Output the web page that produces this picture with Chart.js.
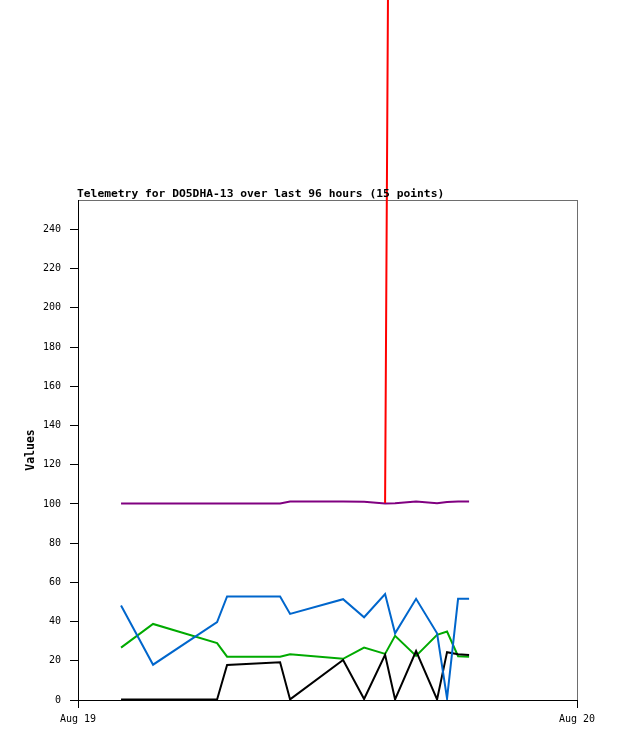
<!doctype html>
<html>
<head>
    <title>Telemetry for DO5DHA-13</title>
    <script src="https://cdn.jsdelivr.net/npm/chart.js"></script>
    <style>
        body { margin: 0; background: #fff; }
    </style>
</head>
<body>
    <canvas id="myChart" width="618" height="741"></canvas>

    <script>
        // time of each sample, hours after Aug 19 00:00
        var hours = [2.07, 3.61, 6.69, 7.17, 9.72, 10.20, 12.75, 13.76, 14.77, 15.25, 16.26, 17.27, 17.75, 18.28, 18.81];

        var redValues    = [null, null, null, null, null, null, null, null, 100.5, 995, 995, 995, 995, 995, 995];
        var blueValues   = [48.2, 18.0, 39.7, 52.8, 52.8, 43.9, 51.4, 42.2, 54.0, 34.0, 51.6, 34.0, 0.8, 51.6, 51.6];
        var blackValues  = [0.3, 0.3, 0.3, 17.9, 19.2, 0.3, 20.4, 0.5, 23.0, 0.3, 25.0, 0.3, 24.4, 23.3, 23.0];
        var greenValues  = [26.7, 38.8, 29.0, 22.1, 22.1, 23.3, 21.0, 26.7, 23.5, 32.7, 22.5, 33.2, 34.9, 22.3, 22.1];
        var purpleValues = [100.2, 100.2, 100.2, 100.2, 100.2, 101.2, 101.2, 101.1, 100.2, 100.4, 101.2, 100.3, 101.0, 101.2, 101.2];

        var xTickLabels = ['Aug 19', 'Aug 20'];
        var yTickStep = 20;

        var titleText = 'Telemetry for DO5DHA-13 over last 96 hours (15 points)';
        var yTitleText = 'Values';

        function points(values) {
            return values.map(function (v, i) { return { x: hours[i], y: v }; });
        }

        function line(values, color, noClip) {
            var ds = {
                data: points(values),
                borderColor: color,
                borderWidth: 2,
                pointRadius: 0,
                tension: 0,
                fill: false,
                spanGaps: false
            };
            if (noClip) ds.clip = false;
            return ds;
        }

        var mono = '"DejaVu Sans Mono", "Liberation Mono", monospace';

        // grey frame behind the axes, plus title and y label in the old gd style
        var framePlugin = {
            id: 'frame',
            beforeDraw: function (chart) {
                var a = chart.chartArea, c = chart.ctx;
                c.save();
                c.fillStyle = '#fff';
                c.fillRect(0, 0, chart.width, chart.height);
                c.strokeStyle = '#6e6e6e';
                c.lineWidth = 1;
                c.strokeRect(a.left + 0.5, a.top + 0.5, a.right - a.left, a.bottom - a.top);
                c.restore();
            },
            afterDraw: function (chart) {
                var a = chart.chartArea, c = chart.ctx;
                c.save();
                c.fillStyle = '#000';
                c.font = 'bold 11.3px ' + mono;
                c.textAlign = 'left';
                c.textBaseline = 'alphabetic';
                c.fillText(titleText, a.left - 1, 197);

                c.translate(31, (a.top + a.bottom) / 2);
                c.rotate(-Math.PI / 2);
                c.textAlign = 'center';
                c.textBaseline = 'middle';
                c.font = 'bold 11.5px ' + mono;
                c.fillText(yTitleText, 0, 0);
                c.restore();
            }
        };

        var ctx = document.getElementById('myChart').getContext('2d');
        var chart = new Chart(ctx, {
            type: 'line',
            data: {
                datasets: [
                    line(redValues, '#ff0000', true),
                    line(blueValues, '#0066cc'),
                    line(blackValues, '#000000'),
                    line(greenValues, '#00aa00'),
                    line(purpleValues, '#800080')
                ]
            },
            options: {
                responsive: false,
                animation: false,
                devicePixelRatio: 1,
                layout: { padding: { top: 200, right: 41, left: 0, bottom: 0 } },
                plugins: {
                    legend: { display: false },
                    title: { display: false },
                    tooltip: { enabled: false }
                },
                scales: {
                    x: {
                        type: 'linear',
                        min: 0,
                        max: 24,
                        afterFit: function (s) { s.height = 41; },
                        grid: { drawOnChartArea: false, tickLength: 8, tickColor: '#000', lineWidth: 1 },
                        border: { display: true, color: '#000', width: 1 },
                        ticks: {
                            stepSize: 24,
                            autoSkip: false,
                            maxRotation: 0,
                            padding: 5,
                            color: '#000',
                            font: { family: mono, size: 10 },
                            callback: function (v) {
                                if (v === 0) return xTickLabels[0];
                                if (v === 24) return xTickLabels[1];
                                return '';
                            }
                        }
                    },
                    y: {
                        min: 0,
                        max: 255,
                        afterFit: function (s) { s.width = 78; },
                        afterBuildTicks: function (s) {
                            s.ticks = s.ticks.filter(function (t) { return t.value % yTickStep === 0; });
                        },
                        grid: { drawOnChartArea: false, tickLength: 8, tickColor: '#000', lineWidth: 1 },
                        border: { display: true, color: '#000', width: 1 },
                        ticks: {
                            stepSize: yTickStep,
                            padding: 9,
                            color: '#000',
                            font: { family: mono, size: 10 }
                        }
                    }
                }
            },
            plugins: [framePlugin]
        });
    </script>
</body>
</html>
